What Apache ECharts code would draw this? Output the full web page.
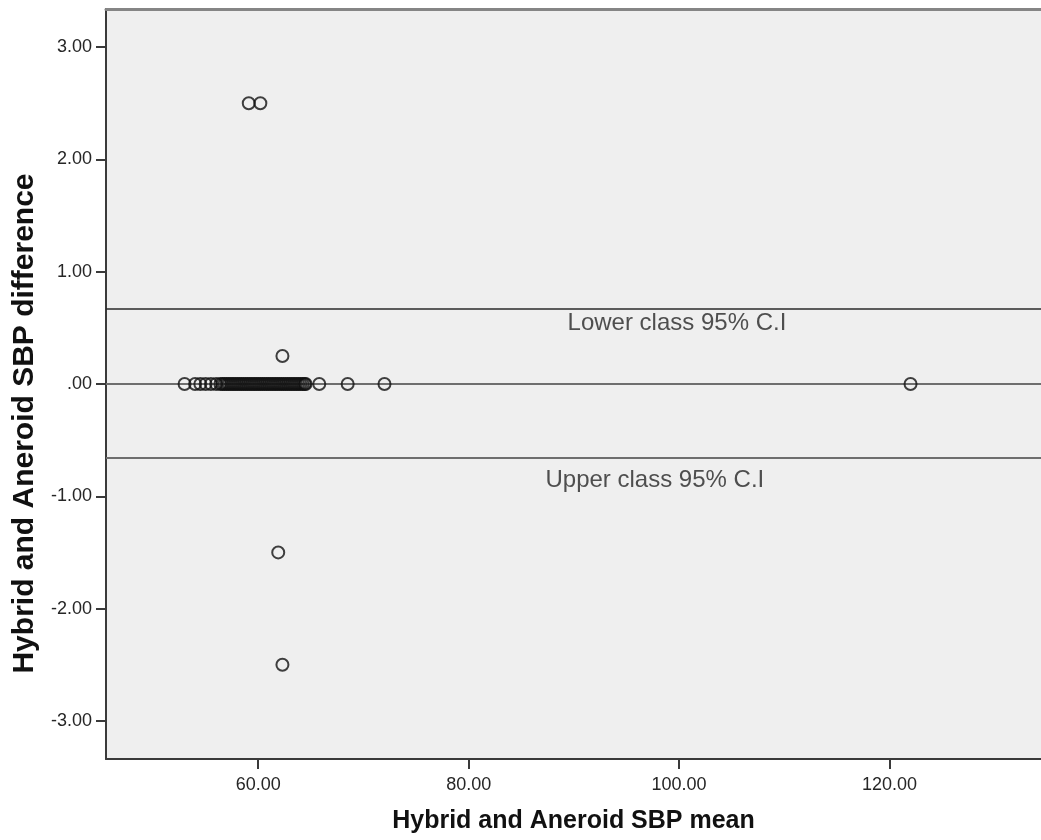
<!DOCTYPE html>
<html>
<head>
<meta charset="utf-8">
<script src="https://cdn.jsdelivr.net/npm/echarts@6/dist/echarts.min.js"></script>
<style>
html,body{margin:0;padding:0;background:#fff;}
#chart{width:1041px;height:840px;}
</style>
</head>
<body>
<div id="chart"></div>
<script>
// Axis ticks
var xTicks = [60, 80, 100, 120];
var yTicks = [-3, -2, -1, 0, 1, 2, 3];

// Points on the zero-difference line (means; the dense band is estimated)
var zeroMeans = [53, 54, 54.5, 55, 55.5, 56,
  56.4, 56.6, 56.8, 57, 57.2, 57.4, 57.6, 57.8, 58, 58.2, 58.4, 58.6, 58.8, 59, 59.2, 59.4, 59.6, 59.8,
  60, 60.2, 60.4, 60.6, 60.8, 61, 61.2, 61.4, 61.6, 61.8, 62, 62.2, 62.4, 62.6, 62.8, 63, 63.2, 63.4,
  63.6, 63.8, 64, 64.2, 64.4, 64.5,
  65.8, 68.5, 72, 122];
// Points away from zero
var otherMeans = [59.1, 60.2, 62.3, 61.9, 62.3];
var otherDiffs = [2.5, 2.5, 0.25, -1.5, -2.5];

// Reference lines
var refLineValues = [0.67, 0, -0.66];
var refLabels = ['Lower class 95% C.I', 'Upper class 95% C.I'];
var refLabelX = [89.4, 87.3];
var refLabelY = [0.54, -0.86];

var points = zeroMeans.map(function (m) { return [m, 0]; })
  .concat(otherMeans.map(function (m, i) { return [m, otherDiffs[i]]; }));
var labelPts = refLabels.map(function (t, i) { return { value: [refLabelX[i], refLabelY[i]], name: t }; });

var fmt = function (v) { return v === 0 ? '.00' : v.toFixed(2); };
var FONT = '"Liberation Sans", Arial, sans-serif';

var chart = echarts.init(document.getElementById('chart'), null, { renderer: 'canvas' });
chart.setOption({
  backgroundColor: '#ffffff',
  animation: false,
  grid: {
    left: 106, top: 9, right: -4, bottom: 81,
    show: true, backgroundColor: '#efefef', borderWidth: 0
  },
  xAxis: [{
    type: 'value', min: 45.53, max: 134.4, position: 'bottom',
    name: 'Hybrid and Aneroid SBP mean', nameLocation: 'middle', nameGap: 50,
    nameMoveOverlap: false,
    nameTextStyle: { fontFamily: FONT, fontSize: 25, fontWeight: 'bold', color: '#111' },
    axisLine: { show: true, onZero: false, lineStyle: { color: '#3a3a3a', width: 2 } },
    axisTick: { show: true, length: 10, customValues: xTicks, lineStyle: { color: '#3a3a3a', width: 2 } },
    axisLabel: { customValues: xTicks, formatter: fmt, margin: 17, fontFamily: FONT, fontSize: 18, color: '#262626' },
    splitLine: { show: false }
  }, {
    type: 'value', min: 45.53, max: 134.4, position: 'top',
    axisLine: { show: true, onZero: false, lineStyle: { color: '#858585', width: 3 } },
    axisTick: { show: false }, axisLabel: { show: false }, splitLine: { show: false }
  }],
  yAxis: {
    type: 'value', min: -3.34, max: 3.34,
    name: 'Hybrid and Aneroid SBP difference', nameLocation: 'middle', nameGap: 66,
    nameTextStyle: { fontFamily: FONT, fontSize: 30, fontWeight: 'bold', color: '#111', padding: [0, 79, 0, 0] },
    axisLine: { show: true, onZero: false, lineStyle: { color: '#3a3a3a', width: 2 } },
    axisTick: { show: true, length: 10, customValues: yTicks, lineStyle: { color: '#3a3a3a', width: 2 } },
    axisLabel: { customValues: yTicks, formatter: fmt, margin: 14, fontFamily: FONT, fontSize: 18, color: '#262626' },
    splitLine: { show: false }
  },
  series: [{
    type: 'scatter',
    data: points,
    symbol: 'circle',
    symbolSize: 12,
    itemStyle: { color: 'rgba(0,0,0,0)', borderColor: '#111111', borderWidth: 2 },
    z: 5,
    markLine: {
      silent: true, symbol: 'none', label: { show: false },
      data: [
        { yAxis: refLineValues[0], lineStyle: { color: '#2a2a2a', width: 1.5, type: 'solid' } },
        { yAxis: refLineValues[1], lineStyle: { color: '#6e6e6e', width: 2, type: 'solid' } },
        { yAxis: refLineValues[2], lineStyle: { color: '#6e6e6e', width: 2, type: 'solid' } }
      ]
    }
  }, {
    type: 'scatter',
    data: labelPts,
    symbolSize: 0,
    silent: true,
    label: {
      show: true, position: 'right', distance: 0,
      formatter: function (p) { return p.name; },
      fontFamily: FONT, fontSize: 24, color: '#262626'
    }
  }]
});
</script>
</body>
</html>
